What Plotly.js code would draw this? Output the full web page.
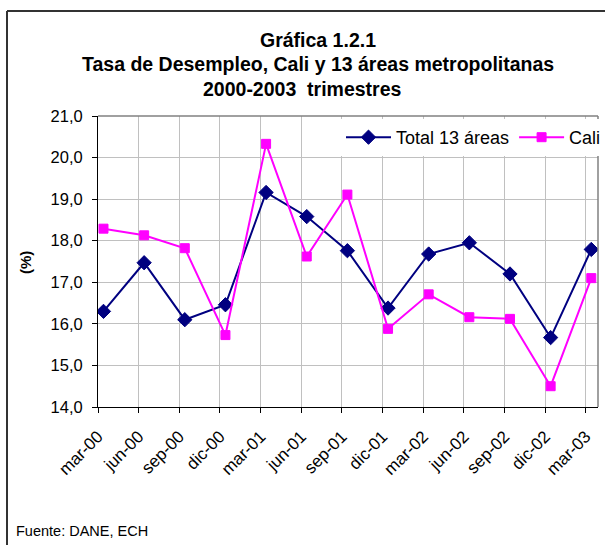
<!DOCTYPE html>
<html>
<head>
<meta charset="utf-8">
<script src="https://cdn.plot.ly/plotly-3.0.1.min.js"></script>
<style>
  html, body { margin: 0; padding: 0; background: #ffffff; }
  #chart { width: 605px; height: 545px; }
</style>
</head>
<body>
<div id="chart"></div>
<script>
// ---- Data ----
const categories = ["mar-00","jun-00","sep-00","dic-00","mar-01","jun-01","sep-01","dic-01","mar-02","jun-02","sep-02","dic-02","mar-03"];
const total13 = [16.30, 17.47, 16.10, 16.46, 19.16, 18.58, 17.76, 16.38, 17.68, 17.95, 17.20, 15.67, 17.79];
const cali    = [18.29, 18.13, 17.82, 15.73, 20.33, 17.62, 19.11, 15.88, 16.71, 16.16, 16.12, 14.50, 17.10];
const yTicks  = [14, 15, 16, 17, 18, 19, 20, 21];
const seriesNames = ["Total 13 áreas", "Cali"];
const titleLines = ["Gráfica 1.2.1", "Tasa de Desempleo, Cali y 13 áreas metropolitanas", "2000-2003  trimestres"];
const yTitle = "(%)";
const sourceNote = "Fuente: DANE, ECH";

// ---- Geometry helpers (pixel -> paper) ----
const W = 605, H = 545;
const M = { l: 98, r: 7, t: 116, b: 138, autoexpand: false };
const PW = W - M.l - M.r, PH = H - M.t - M.b;
const px = x => (x - M.l) / PW;
const py = y => (H - M.b - y) / PH;

const idx = categories.map((c, i) => i);
const shift = 0.135;                    // points sit slightly right of the tick marks
const tickPos = idx.map(i => i - shift);

const FONT = "Liberation Sans, Arial, sans-serif";

const traces = [
  {
    x: idx, y: total13, name: seriesNames[0], type: "scatter", mode: "lines+markers",
    line: { color: "#000080", width: 2 },
    marker: { symbol: "diamond", size: 11, color: "#000080", line: { color: "#000080", width: 1 } },
    hoverinfo: "skip"
  },
  {
    x: idx, y: cali, name: seriesNames[1], type: "scatter", mode: "lines+markers",
    line: { color: "#ff00ff", width: 2 },
    marker: { symbol: "square", size: 9, color: "#ff00ff", line: { color: "#ff00ff", width: 1 } },
    hoverinfo: "skip"
  }
];

const layout = {
  width: W, height: H,
  margin: M,
  paper_bgcolor: "#ffffff",
  plot_bgcolor: "#ffffff",
  separators: ",.",
  font: { family: FONT, color: "#000000", size: 16 },
  showlegend: true,
  legend: {
    orientation: "h",
    x: px(606), xanchor: "right",
    y: py(119), yanchor: "top",
    bgcolor: "#ffffff",
    borderwidth: 0,
    font: { family: FONT, size: 18, color: "#000000" },
    itemwidth: 45,
    traceorder: "normal"
  },
  xaxis: {
    type: "linear",
    range: [-shift, 12.3 - shift],
    tickmode: "array",
    tickvals: tickPos,
    ticktext: categories,
    tickangle: -45,
    ticks: "outside", ticklen: 5, tickcolor: "#000000", tickwidth: 1,
    ticklabelstandoff: 7,
    showline: true, linecolor: "#000000", linewidth: 1,
    showgrid: true, gridcolor: "#c0c0c0", gridwidth: 1,
    zeroline: false,
    tickfont: { family: FONT, size: 17, color: "#000000" },
    fixedrange: true,
    automargin: false
  },
  yaxis: {
    range: [14, 21],
    tickmode: "array",
    tickvals: yTicks,
    tickformat: ".1f",
    ticks: "outside", ticklen: 5, tickcolor: "#000000", tickwidth: 1,
    ticklabelstandoff: 6,
    showline: true, linecolor: "#000000", linewidth: 1,
    showgrid: true, gridcolor: "#c0c0c0", gridwidth: 1,
    zeroline: false,
    tickfont: { family: FONT, size: 16.5, color: "#000000" },
    fixedrange: true,
    automargin: false
  },
  shapes: [
    // plot-area frame (top & right) in gray
    { type: "line", xref: "paper", yref: "paper", x0: 0, x1: 1, y0: 1, y1: 1, line: { color: "#808080", width: 1.5 }, layer: "above" },
    { type: "line", xref: "paper", yref: "paper", x0: 1, x1: 1, y0: 0, y1: 1, line: { color: "#808080", width: 1.5 }, layer: "above" },
    // outer chart border (left & top)
    { type: "line", xref: "paper", yref: "paper", x0: px(7), x1: px(7), y0: py(546), y1: py(11), line: { color: "#333333", width: 2 } },
    { type: "line", xref: "paper", yref: "paper", x0: px(7), x1: px(606), y0: py(11), y1: py(11), line: { color: "#333333", width: 2 } }
  ],
  annotations: [
    { text: "<b>" + titleLines[0] + "</b>", xref: "paper", yref: "paper", x: px(318), y: py(40), xanchor: "center", yanchor: "middle", showarrow: false, font: { family: FONT, size: 19.5, color: "#000000" } },
    { text: "<b>" + titleLines[1] + "</b>", xref: "paper", yref: "paper", x: px(318), y: py(64), xanchor: "center", yanchor: "middle", showarrow: false, font: { family: FONT, size: 19.5, color: "#000000" } },
    { text: "<b>" + titleLines[2] + "</b>", xref: "paper", yref: "paper", x: px(302), y: py(89), xanchor: "center", yanchor: "middle", showarrow: false, font: { family: FONT, size: 19.5, color: "#000000" } },
    { text: "<b>" + yTitle + "</b>", xref: "paper", yref: "paper", x: px(25), y: py(263), xanchor: "center", yanchor: "middle", textangle: -90, showarrow: false, font: { family: FONT, size: 15, color: "#000000" } },
    { text: sourceNote, xref: "paper", yref: "paper", x: px(14), y: py(531), xanchor: "left", yanchor: "middle", showarrow: false, font: { family: FONT, size: 14.5, color: "#000000" } }
  ]
};

Plotly.newPlot("chart", traces, layout, { staticPlot: true, displayModeBar: false });
</script>
</body>
</html>
